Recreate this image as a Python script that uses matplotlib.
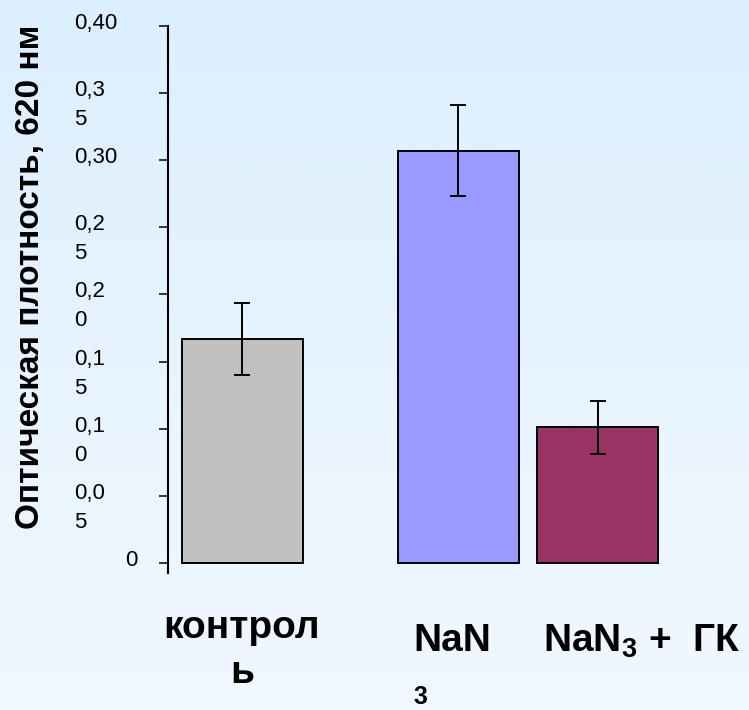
import numpy as np
import matplotlib
matplotlib.use('Agg')
import matplotlib.pyplot as plt

# =============================================================================
#  Optical density at 620 nm: control / NaN3 / NaN3 + GK
# =============================================================================

groups = ['контрол\nь', 'NaN', 'NaN$_3$ +  ГК']
wrapped_sub = '3'   # subscript of "NaN3" that wrapped onto its own line
values = [0.167, 0.307, 0.101]
errors = [0.027, 0.034, 0.020]
colors = ['#C0C0C0', '#9999FF', '#993366']

y_ticks = [0.0, 0.05, 0.10, 0.15, 0.20, 0.25, 0.30, 0.35, 0.40]
y_tick_labels = ['0', '0,0\n5', '0,1\n0', '0,1\n5', '0,2\n0', '0,2\n5', '0,30', '0,3\n5', '0,40']
y_label = 'Оптическая плотность, 620 нм'

plt.rcParams['font.family'] = ['Liberation Sans', 'DejaVu Sans']
plt.rcParams['mathtext.fontset'] = 'custom'
plt.rcParams['mathtext.rm'] = 'Liberation Sans:bold'
plt.rcParams['mathtext.it'] = 'Liberation Sans:bold'
plt.rcParams['mathtext.bf'] = 'Liberation Sans:bold'

W, H = 749, 710
fig = plt.figure(figsize=(W / 100, H / 100), dpi=100)

# background gradient (light blue, lighter towards the bottom)
bg = fig.add_axes([0, 0, 1, 1], zorder=-10)
top = np.array([220, 239, 254]) / 255
bot = np.array([241, 248, 254]) / 255
t = np.linspace(0, 1, 256)[:, None, None]
grad = top * (1 - t) + bot * t
bg.imshow(np.repeat(grad, 2, axis=1), aspect='auto', extent=[0, 1, 0, 1])
bg.axis('off')

# axes placed in pixel terms (spine at x=168, y from 26 to 573)
ax = fig.add_axes([168 / W, (H - 573) / H, 1 - 168 / W, (573 - 26) / H])
ax.patch.set_alpha(0)

# uneven category spacing as in the original slide
bar_x = [0.0, 1.785, 2.938]
ax.bar(bar_x, values, width=1.0, color=colors, edgecolor='black', linewidth=1.4, zorder=2)
ax.errorbar(bar_x, values, yerr=errors, fmt='none', ecolor='black',
            elinewidth=1.4, capsize=6, capthick=1.4, zorder=3)

ax.set_xlim(-0.612, 4.19)
ax.set_ylim(-0.00745, 0.40)

for s in ['top', 'right', 'bottom']:
    ax.spines[s].set_visible(False)
ax.spines['left'].set_linewidth(1.5)
ax.spines['left'].set_bounds(-0.00745, 0.40)

ax.set_xticks([])
ax.set_yticks(y_ticks)
ax.set_yticklabels([])
ax.tick_params(axis='y', direction='out', length=6.5, width=1.1)

# y tick labels (wrapped like the original text boxes)
for v, lab in zip(y_ticks, y_tick_labels):
    dx = -31 if lab == '0' else -67.5
    ax.annotate(lab, xy=(0, v), xycoords=('axes fraction', 'data'),
                xytext=(dx, 9.4), textcoords='offset points',
                ha='left', va='top', fontsize=16, linespacing=1.5,
                annotation_clip=False)

# y axis label
fig.text(30.5 / W, 1 - 277 / H, y_label, rotation=90, ha='center', va='center',
         fontsize=24, fontweight='bold')

# category labels under the bars
ax.annotate(groups[0], xy=(bar_x[0], 0), xycoords='data',
            xytext=(0, -33.8), textcoords='offset points',
            ha='center', va='top', multialignment='center',
            fontsize=28, fontweight='bold', linespacing=1.32, annotation_clip=False)
ax.annotate(groups[1], xy=(bar_x[1], 0), xycoords='data',
            xytext=(-32.4, -43.2), textcoords='offset points',
            ha='left', va='top',
            fontsize=28, fontweight='bold', annotation_clip=False)
ax.annotate(wrapped_sub, xy=(bar_x[1], 0), xycoords='data',
            xytext=(-32.4, -101.5), textcoords='offset points',
            ha='left', va='baseline',
            fontsize=18, fontweight='bold', annotation_clip=False)
ax.annotate(groups[2], xy=(bar_x[2], 0), xycoords='data',
            xytext=(-39.2, -43.2), textcoords='offset points',
            ha='left', va='top',
            fontsize=28, fontweight='bold', annotation_clip=False)

fig.savefig('out.png', dpi=100)
